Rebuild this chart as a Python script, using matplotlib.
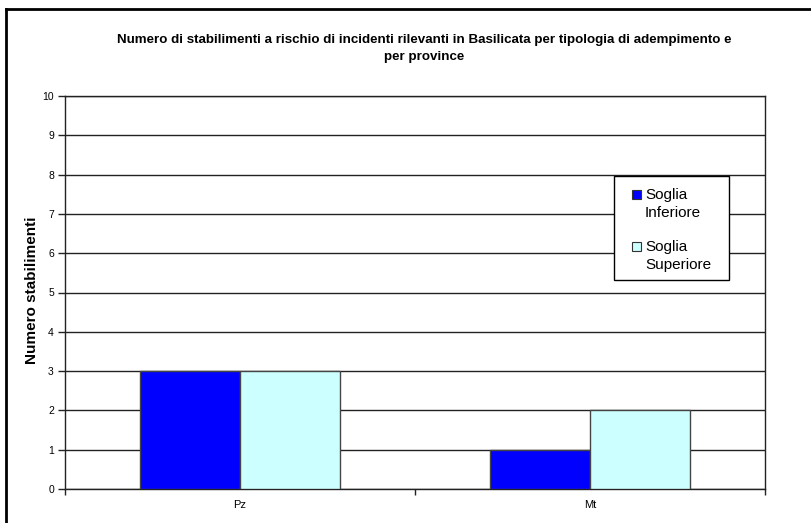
import matplotlib
matplotlib.use('Agg')
import matplotlib.pyplot as plt
import numpy as np
from matplotlib.patches import Rectangle
from matplotlib.lines import Line2D

plt.rcParams['font.family'] = ['Liberation Sans', 'DejaVu Sans']

W, H = 811, 523

province = ['Pz', 'Mt']
soglia_inferiore = [3, 1]
soglia_superiore = [3, 2]
series_labels = ['Soglia\nInferiore', 'Soglia\nSuperiore']
colors = ['#0000FF', '#CCFFFF']

fig = plt.figure(figsize=(W / 100, H / 100), dpi=100)
fig.patch.set_facecolor('white')


def px(xp, yp):
    # pixel position -> figure fraction
    return xp / W, 1 - yp / H


# plot area in pixels
left, right, top, bottom = 65, 765, 96, 489
ax = fig.add_axes([left / W, 1 - bottom / H, (right - left) / W, (bottom - top) / H])

x = np.arange(len(province))
width = 100 / 350
ax.bar(x - width / 2, soglia_inferiore, width, color=colors[0], edgecolor='#444444', linewidth=1, zorder=3)
ax.bar(x + width / 2, soglia_superiore, width, color=colors[1], edgecolor='#444444', linewidth=1, zorder=3)

ax.set_xlim(-0.5, len(province) - 0.5)
ax.set_ylim(0, 10)
ax.set_yticks(range(0, 11))
ax.yaxis.grid(True, color='#222222', linewidth=1, zorder=0)
ax.set_axisbelow(True)

ax.set_xticks(x)
ax.set_xticklabels(province, fontsize=8)
ax.tick_params(axis='x', which='major', length=0, pad=8)
ax.set_xticks(np.arange(-0.5, len(province), 1.0), minor=True)
ax.tick_params(axis='x', which='minor', length=4, width=1, color='#222222')
ax.tick_params(axis='y', labelsize=7.5, length=5, width=1, color='#222222', pad=3)

for s in ax.spines.values():
    s.set_color('#222222')
    s.set_linewidth(1)

fig.text(*px(32, 290), 'Numero stabilimenti', rotation=90, ha='center', va='center',
         fontsize=11, fontweight='bold')

fig.text(*px(424, 48.5), 'Numero di stabilimenti a rischio di incidenti rilevanti in Basilicata per tipologia di adempimento e\nper province',
         ha='center', va='center', fontsize=9.6, fontweight='bold', linespacing=1.55)

# legend box
lx0, ly0, lx1, ly1 = 614, 176, 729, 280
fig.patches.append(Rectangle(px(lx0, ly1), (lx1 - lx0) / W, (ly1 - ly0) / H,
                             transform=fig.transFigure, facecolor='white', edgecolor='black', linewidth=1, zorder=5))
for i, (lab, c) in enumerate(zip(series_labels, colors)):
    ytop = 188 + i * 52
    fig.patches.append(Rectangle(px(632, ytop + 11), 9 / W, 9 / H, transform=fig.transFigure,
                                 facecolor=c, edgecolor='#333333', linewidth=0.8, zorder=6))
    fig.text(*px(645, ytop), lab, ha='left', va='top', fontsize=11, linespacing=1.4, zorder=6)

# outer chart border (top and left visible)
fig.lines.append(Line2D([6 / W, 1.0], [1 - 9 / H, 1 - 9 / H], transform=fig.transFigure, color='black', linewidth=2))
fig.lines.append(Line2D([6 / W, 6 / W], [0.0, 1 - 9 / H], transform=fig.transFigure, color='black', linewidth=2))

fig.savefig('out.png', dpi=100, facecolor='white')
